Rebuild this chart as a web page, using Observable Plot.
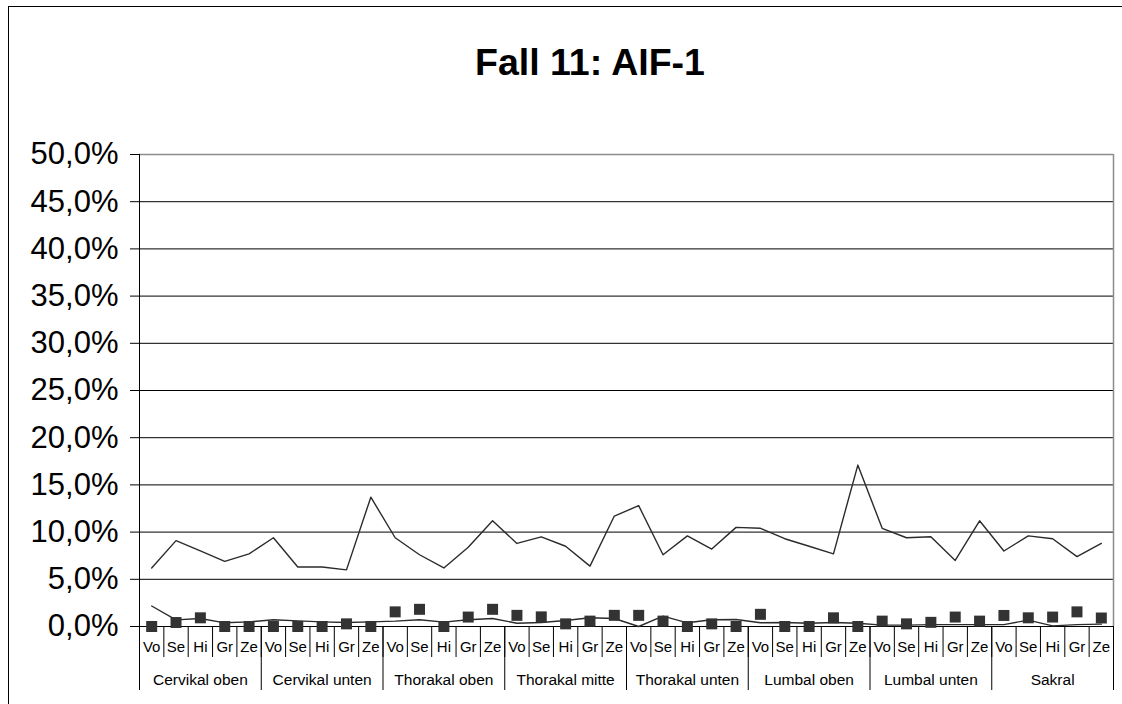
<!DOCTYPE html>
<html>
<head>
<meta charset="utf-8">
<script src="https://cdn.jsdelivr.net/npm/d3@7"></script>
<script src="https://cdn.jsdelivr.net/npm/@observablehq/plot@0.6"></script>
<style>
  html, body { margin: 0; padding: 0; background: #fff; overflow: hidden; width: 1122px; height: 704px; }
  #frame { position: absolute; left: 8px; top: 6px; width: 1300px; height: 900px;
           border-left: 1px solid #000; border-top: 1px solid #000; }
  #title { position: absolute; left: 0; top: 41px; width: 1180px; text-align: center;
           font: bold 37.5px "Liberation Sans", Arial, sans-serif; color: #000; }
  #chart { position: absolute; left: 0; top: 100px; }
</style>
</head>
<body>
<div id="frame"></div>
<div id="title">Fall 11: AIF-1</div>
<div id="chart"></div>
<script>
// Spine regions, each split into five segments
const groups = ["Cervikal oben", "Cervikal unten", "Thorakal oben", "Thorakal mitte",
                "Thorakal unten", "Lumbal oben", "Lumbal unten", "Sakral"];
const segments = ["Vo", "Se", "Hi", "Gr", "Ze"];

// Values in percent, one per segment (8 regions x 5 segments)
const upper = [
  6.2, 9.1, 8.0, 6.9, 7.7,
  9.4, 6.3, 6.3, 6.0, 13.7,
  9.4, 7.6, 6.2, 8.4, 11.2,
  8.8, 9.5, 8.5, 6.4, 11.7,
  12.8, 7.6, 9.6, 8.2, 10.5,
  10.4, 9.3, 8.5, 7.7, 17.1,
  10.4, 9.4, 9.5, 7.0, 11.2,
  8.0, 9.6, 9.3, 7.4, 8.8
];
const lower = [
  2.17, 0.7, 0.85, 0.39, 0.49,
  0.72, 0.6, 0.49, 0.42, 0.49,
  0.57, 0.71, 0.46, 0.71, 0.85,
  0.35, 0.42, 0.64, 0.92, 0.85,
  0.0, 1.1, 0.39, 0.71, 0.74,
  0.39, 0.42, 0.35, 0.42, 0.35,
  0.15, 0.15, 0.2, 0.2, 0.2,
  0.2, 0.67, 0.07, 0.2, 0.25
];
const squares = [
  0.0, 0.42, 0.92, 0.0, 0.0,
  0.0, 0.0, 0.0, 0.28, 0.0,
  1.55, 1.82, 0.0, 1.0, 1.82,
  1.18, 1.02, 0.28, 0.57, 1.18,
  1.18, 0.57, 0.0, 0.28, 0.0,
  1.29, 0.0, 0.0, 0.92, 0.0,
  0.57, 0.28, 0.44, 1.0, 0.57,
  1.17, 0.92, 1.0, 1.55, 0.9
];
const yTicks = [0, 5, 10, 15, 20, 25, 30, 35, 40, 45, 50];

const rows = upper.map((u, i) => ({pos: i + 0.5, upper: u, lower: lower[i], square: squares[i]}));
const n = rows.length;
const segmentCenters = rows.map(d => d.pos);
const groupCenters = groups.map((g, k) => k * 5 + 2.5);
const pctFormat = d => d.toFixed(1).replace(".", ",") + "%";

const chart = Plot.plot({
  width: 1122,
  height: 604,
  marginLeft: 139,
  marginRight: 9,
  marginTop: 54,
  marginBottom: 78,
  style: {fontFamily: '"Liberation Sans", Arial, sans-serif', color: "#000", background: "transparent", overflow: "visible"},
  x: {type: "linear", domain: [0, n], axis: null},
  y: {domain: [0, 50], axis: null},
  marks: [
    Plot.ruleY(yTicks.filter(t => t < 50), {stroke: "#000", strokeWidth: 1}),
    Plot.ruleY([50], {stroke: "#8c8c8c", strokeWidth: 1.5}),
    Plot.ruleX([n], {stroke: "#8c8c8c", strokeWidth: 1.5}),
    Plot.ruleX([0], {stroke: "#000", strokeWidth: 1}),
    Plot.axisY({ticks: yTicks, tickSize: 9, tickPadding: 12, tickFormat: pctFormat, fontSize: 31, stroke: "#000", label: null}),
    // segment separators and region separators below the baseline
    Plot.axisX({ticks: d3.range(0, n + 1), tickSize: 31, tickFormat: () => "", stroke: "#000", label: null}),
    Plot.axisX({ticks: d3.range(0, n + 1, 5), tickSize: 64, tickFormat: () => "", stroke: "#000", label: null}),
    Plot.axisX({ticks: segmentCenters, tickSize: 0, tickPadding: 15, fontSize: 15, label: null,
                tickFormat: d => segments[Math.floor(d) % 5]}),
    Plot.axisX({ticks: groupCenters, tickSize: 0, tickPadding: 47, fontSize: 15.5, label: null,
                tickFormat: d => groups[Math.floor(d / 5)]}),
    Plot.line(rows, {x: "pos", y: "upper", stroke: "#2b2b2b", strokeWidth: 1.4}),
    Plot.line(rows, {x: "pos", y: "lower", stroke: "#2b2b2b", strokeWidth: 1.4}),
    Plot.dot(rows, {x: "pos", y: "square", symbol: "square", r: 6.2, fill: "#333", stroke: null})
  ]
});
document.getElementById("chart").appendChild(chart);
</script>
</body>
</html>
